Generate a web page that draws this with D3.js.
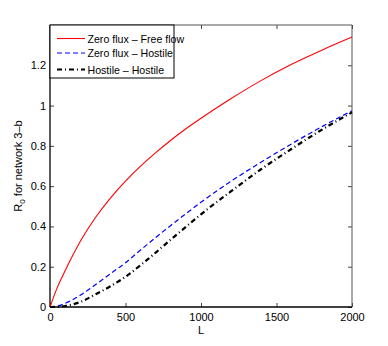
<!DOCTYPE html>
<html>
<head>
<meta charset="utf-8">
<script src="https://cdn.jsdelivr.net/npm/d3@7"></script>
<style>
  body { margin: 0; background: #fff; }
  text { font-family: "Liberation Sans", Arial, sans-serif; fill: #000; }
</style>
</head>
<body>
<div id="chart"></div>
<script>
// values
var lengths = [0, 50, 100, 200, 300, 400, 500, 600, 700, 800, 900, 1000, 1200, 1400, 1600, 1800, 2000];
var zeroFree = [0, 0.1, 0.18, 0.325, 0.443, 0.541, 0.625, 0.699, 0.766, 0.828, 0.885, 0.937, 1.035, 1.125, 1.205, 1.275, 1.34];
var zeroHostile = [0, 0.005, 0.018, 0.058, 0.11, 0.165, 0.22, 0.283, 0.345, 0.405, 0.463, 0.52, 0.625, 0.72, 0.81, 0.895, 0.974];
var hostileHostile = [0, 0.001, 0.005, 0.025, 0.062, 0.103, 0.15, 0.208, 0.27, 0.335, 0.398, 0.46, 0.575, 0.685, 0.785, 0.88, 0.966];
var seriesNames = ['Zero flux \u2013 Free flow', 'Zero flux \u2013 Hostile', 'Hostile \u2013 Hostile'];
var xTicks = [0, 500, 1000, 1500, 2000];
var yTicks = [0, 0.2, 0.4, 0.6, 0.8, 1, 1.2];

var margin = { top: 25, left: 50, bottom: 39, right: 36 },
  width = 388 - margin.left - margin.right,
  height = 346 - margin.top - margin.bottom;

var svg = d3.select('#chart').append('svg')
  .attr('width', 388)
  .attr('height', 346)
  .append('g')
  .attr('transform', 'translate(' + margin.left + ',' + margin.top + ')');

var x = d3.scaleLinear().domain([0, 2000]).range([0, width]);
var y = d3.scaleLinear().domain([0, 1.4]).range([height, 0]);

// axes with inward ticks, like matlab
var tick = 4;
svg.append('g').attr('transform', 'translate(0,' + height + ')')
  .call(d3.axisBottom(x).tickValues(xTicks).tickSize(-tick).tickPadding(6).tickFormat(d3.format('d')))
  .call(g => g.select('.domain').remove());
svg.append('g')
  .call(d3.axisTop(x).tickValues(xTicks).tickSize(-tick).tickFormat(''))
  .call(g => g.select('.domain').remove());
svg.append('g')
  .call(d3.axisLeft(y).tickValues(yTicks).tickSize(-tick).tickPadding(4).tickFormat(d => d))
  .call(g => g.select('.domain').remove());
svg.append('g').attr('transform', 'translate(' + width + ',0)')
  .call(d3.axisRight(y).tickValues(yTicks).tickSize(-tick).tickFormat(''))
  .call(g => g.select('.domain').remove());
svg.selectAll('.tick text').style('font-size', '11px').style('font-family', '"Liberation Sans", Arial, sans-serif');
svg.selectAll('.tick line').attr('stroke', '#444');

// box
svg.append('line').attr('x1', 0).attr('x2', width).attr('y1', 0).attr('y2', 0).attr('stroke', '#555');
svg.append('line').attr('x1', width).attr('x2', width).attr('y1', 0).attr('y2', height).attr('stroke', '#555');
svg.append('line').attr('x1', 0).attr('x2', 0).attr('y1', 0).attr('y2', height).attr('stroke', '#000').attr('stroke-width', 1.3);
svg.append('line').attr('x1', 0).attr('x2', width).attr('y1', height).attr('y2', height).attr('stroke', '#000').attr('stroke-width', 1.3);

var line = d3.line()
  .x((d, i) => x(lengths[i]))
  .y(d => y(d))
  .curve(d3.curveMonotoneX);

var styles = [
  { color: '#ff0000', width: 1.1, dash: null },
  { color: '#0000ff', width: 1.2, dash: '5,3' },
  { color: '#000000', width: 2.2, dash: '5,3,1,3' }
];
var allSeries = [zeroFree, zeroHostile, hostileHostile];

svg.selectAll('.series')
  .data(allSeries)
  .enter()
  .append('path')
  .attr('class', 'series')
  .attr('fill', 'none')
  .attr('stroke', (d, i) => styles[i].color)
  .attr('stroke-width', (d, i) => styles[i].width)
  .attr('stroke-dasharray', (d, i) => styles[i].dash)
  .attr('d', line);

// axis labels
svg.append('text')
  .attr('x', width / 2)
  .attr('y', height + 27)
  .attr('text-anchor', 'middle')
  .style('font-size', '11px')
  .text('L');

var ylab = svg.append('text')
  .attr('transform', 'translate(' + (-28) + ',' + (height / 2) + ') rotate(-90)')
  .attr('text-anchor', 'middle')
  .style('font-size', '11px');
ylab.append('tspan').text('R');
ylab.append('tspan').attr('dy', 3).style('font-size', '8px').text('0');
ylab.append('tspan').attr('dy', -3).text(' for network 3\u2013b');

// legend
var legend = svg.append('g');
legend.append('rect')
  .attr('x', 0).attr('y', 0)
  .attr('width', 124).attr('height', 53)
  .attr('fill', '#fff').attr('stroke', '#000').attr('stroke-width', 1);

var rowY = [13.5, 28, 44.5];
seriesNames.forEach((name, i) => {
  legend.append('line')
    .attr('x1', 7).attr('x2', 35)
    .attr('y1', rowY[i]).attr('y2', rowY[i])
    .attr('stroke', styles[i].color)
    .attr('stroke-width', styles[i].width)
    .attr('stroke-dasharray', styles[i].dash);
  legend.append('text')
    .attr('x', 37.5)
    .attr('y', rowY[i] + 4)
    .style('font-size', '10.6px')
    .text(name);
});
</script>
</body>
</html>
